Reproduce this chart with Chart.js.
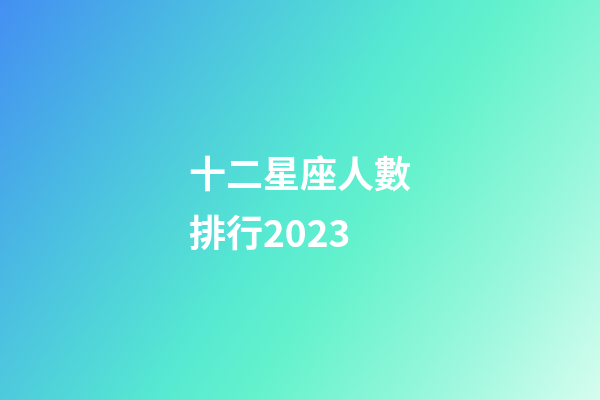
<!DOCTYPE html>
<html lang="zh-Hant">
<head>
  <meta charset="UTF-8" />
  <title>十二星座人數排行2023</title>
  <script src="https://cdn.jsdelivr.net/npm/chart.js"></script>
  <style>
    html, body {
      margin: 0;
      padding: 0;
      overflow: hidden;
    }
    .chart-box {
      width: 600px;
      height: 400px;
    }
  </style>
</head>
<body>

<div class="chart-box">
  <canvas id="cover"></canvas>
</div>

<script>
  // Title card only: no data series in the picture
  const titleLines = ['十二星座人數', '排行2023'];
  const categories = [];
  const values = [];

  // diagonal background, blue top-left to pale mint bottom-right
  const backdrop = {
    id: 'backdrop',
    beforeDraw(chart) {
      const ctx = chart.ctx;
      const w = chart.width, h = chart.height;
      const g = ctx.createLinearGradient(0, 0, w, h);
      g.addColorStop(0, '#438ff2');
      g.addColorStop(0.25, '#4bc0e0');
      g.addColorStop(0.48, '#56e8d2');
      g.addColorStop(0.6, '#64f2cc');
      g.addColorStop(0.8, '#98f7dc');
      g.addColorStop(1, '#d6fdef');
      ctx.save();
      ctx.fillStyle = g;
      ctx.fillRect(0, 0, w, h);
      ctx.restore();
    }
  };

  const caption = {
    id: 'caption',
    afterDraw(chart) {
      const ctx = chart.ctx;
      ctx.save();
      ctx.fillStyle = '#ffffff';
      ctx.font = 'bold 37px "Noto Sans CJK TC", "Noto Sans CJK SC", sans-serif';
      ctx.textAlign = 'left';
      ctx.textBaseline = 'middle';
      titleLines.forEach((line, i) => {
        ctx.fillText(line, 189, 174 + i * 59);
      });
      ctx.restore();
    }
  };

  new Chart(document.getElementById('cover'), {
    type: 'bar',
    data: {
      labels: categories,
      datasets: [{ data: values }]
    },
    options: {
      responsive: true,
      maintainAspectRatio: false,
      animation: false,
      events: [],
      plugins: {
        legend: { display: false },
        tooltip: { enabled: false }
      },
      scales: {
        x: { display: false },
        y: { display: false }
      }
    },
    plugins: [backdrop, caption]
  });
</script>

</body>
</html>
